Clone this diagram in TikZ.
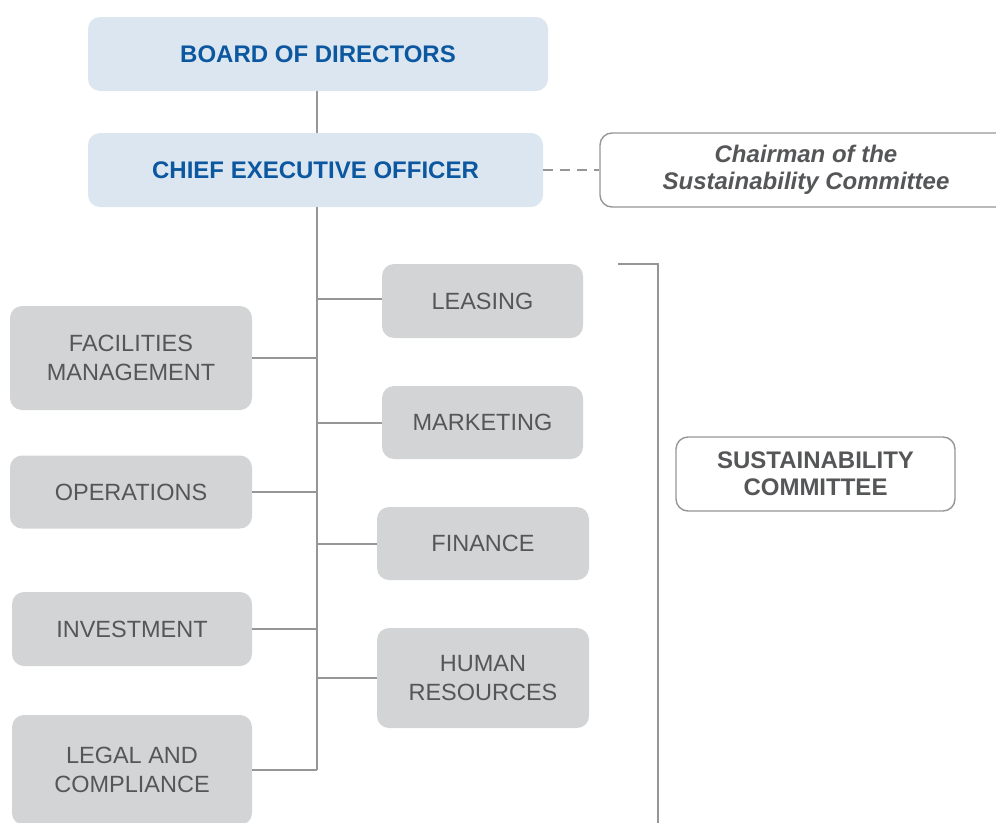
\documentclass[tikz,border=0pt]{standalone}
\usepackage{fontspec}
\setmainfont{Liberation Sans}
\usepackage{tikz}
\usetikzlibrary{positioning,calc}
\definecolor{topfill}{RGB}{220,230,240}
\definecolor{topblue}{RGB}{12,88,160}
\definecolor{unitfill}{RGB}{211,212,214}
\definecolor{unittext}{RGB}{85,86,88}
\definecolor{linegray}{RGB}{150,150,152}
\tikzset{
  topbox/.style={rectangle,fill=topfill,rounded corners=12pt,inner sep=0pt,
                 text=topblue,font=\fontsize{24}{29}\selectfont\bfseries},
  unitbox/.style={rectangle,fill=unitfill,rounded corners=12pt,inner sep=0pt,
                  text=unittext,align=center,
                  font=\fontsize{23.5}{28.5}\selectfont},
  notebox/.style={rectangle,draw=linegray,line width=1.4pt,fill=white,
                  rounded corners=12pt,inner sep=0pt,text=unittext,align=center,
                  font=\fontsize{24}{27}\selectfont\bfseries},
  link/.style={draw=linegray,line width=2pt},
}
\begin{document}
\begin{tikzpicture}[x=1pt,y=-1pt]
\useasboundingbox (0,0) rectangle (996,822);

% management line
\node[topbox, minimum width=460pt, minimum height=74pt] (board) at (318,54) {BOARD OF DIRECTORS};
\node[topbox, minimum width=455pt, minimum height=74pt] (ceo) at (315.5,170) {CHIEF EXECUTIVE OFFICER};
\node[notebox, minimum width=412pt, minimum height=74pt, font=\fontsize{24}{27}\selectfont\bfseries\itshape]
      (chair) at (806,170) {Chairman of the\\Sustainability Committee};

% departments, left column
\node[unitbox, minimum width=242pt, minimum height=104pt] (fac) at (131,358) {FACILITIES\\MANAGEMENT};
\node[unitbox, minimum width=242pt, minimum height=73pt] (ops) at (131,492) {OPERATIONS};
\node[unitbox, minimum width=240pt, minimum height=74pt] (inv) at (132,629) {INVESTMENT};
\node[unitbox, minimum width=240pt, minimum height=110pt] (legal) at (132,770) {LEGAL AND\\COMPLIANCE};

% departments, right column
\node[unitbox, minimum width=201pt, minimum height=74pt] (lease) at (482.5,301) {LEASING};
\node[unitbox, minimum width=201pt, minimum height=73pt] (mkt) at (482.5,422.5) {MARKETING};
\node[unitbox, minimum width=212pt, minimum height=73pt] (fin) at (483,543.5) {FINANCE};
\node[unitbox, minimum width=212pt, minimum height=100pt] (hr) at (483,678) {HUMAN\\RESOURCES};

% committee
\node[notebox, minimum width=279pt, minimum height=74pt] (comm) at (815.5,474) {SUSTAINABILITY\\COMMITTEE};

% spine
\coordinate (spine) at (317,770);
\draw[link] (board.south -| spine) -- (ceo.north -| spine);
\draw[link] (ceo.south -| spine) -- (spine);
\draw[link, dash pattern=on 10pt off 7pt] (ceo.east) -- (chair.west);

% branches
\foreach \unit in {fac,ops,inv,legal}
  \draw[link] (\unit.east) -- (\unit.east -| spine);
\draw[link] (lease.west |- 0,299) -- (spine |- 0,299);
\foreach \unit in {mkt,fin,hr}
  \draw[link] (\unit.west) -- (\unit.west -| spine);

% bracket for the committee members
\coordinate (brtop) at (618,264);
\coordinate (brend) at (658,830);
\draw[link] (brtop) -- (brtop -| brend) -- (brend);
\end{tikzpicture}
\end{document}
